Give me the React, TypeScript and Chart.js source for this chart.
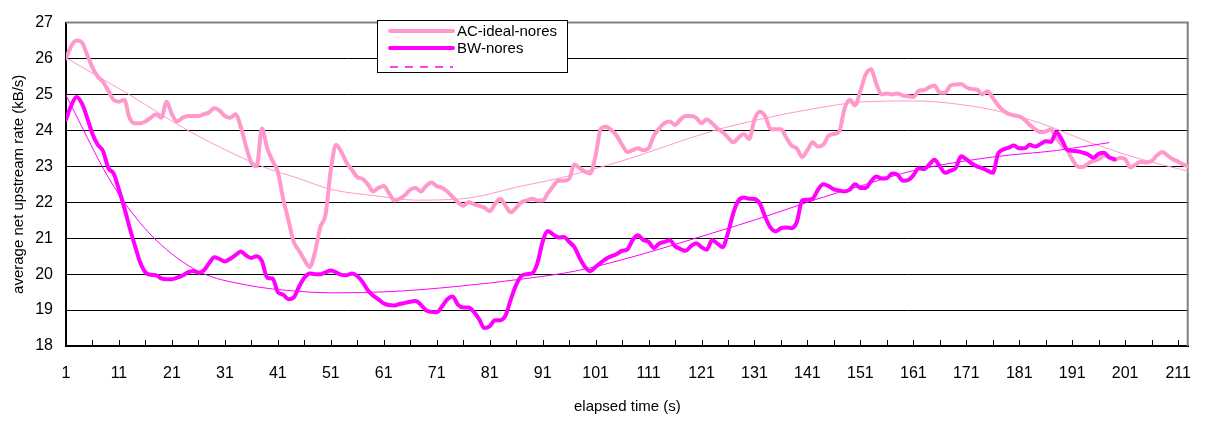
import React, { useEffect, useRef } from 'react';
import { Chart, registerables } from 'chart.js';

Chart.register(...registerables);

// ---- data ----
const seriesNames = ['AC-ideal-nores', 'BW-nores'];

// one value per second, starting at t = 1
const acRate = [
  26.0, 26.35, 26.5, 26.45, 26.1, 25.75, 25.5, 25.35, 25.1, 24.85,
  24.8, 24.85, 24.35, 24.2, 24.2, 24.25, 24.35, 24.45, 24.35, 24.8,
  24.45, 24.25, 24.35, 24.4, 24.4, 24.4, 24.45, 24.5, 24.62, 24.55,
  24.4, 24.35, 24.45, 24.1, 23.55, 23.1, 23.0, 24.05, 23.5, 23.15,
  22.85, 22.1, 21.5, 20.9, 20.65, 20.4, 20.2, 20.6, 21.3, 21.65,
  22.9, 23.6, 23.4, 23.1, 22.9, 22.7, 22.65, 22.5, 22.3, 22.4,
  22.45, 22.25, 22.05, 22.1, 22.2, 22.35, 22.4, 22.3, 22.45, 22.55,
  22.45, 22.4, 22.3, 22.15, 22.0, 21.9, 22.0, 21.95, 21.9, 21.85,
  21.75, 21.95, 22.1, 21.9, 21.72, 21.85, 22.0, 22.05, 22.1, 22.05,
  22.05, 22.25, 22.45, 22.6, 22.6, 22.65, 23.05, 22.95, 22.85, 22.8,
  23.3, 24.05, 24.1, 24.0, 23.85, 23.6, 23.4, 23.45, 23.5, 23.45,
  23.5, 23.85, 24.05, 24.2, 24.25, 24.15, 24.3, 24.4, 24.4, 24.35,
  24.2, 24.3, 24.2, 24.05, 23.95, 23.8, 23.67, 23.8, 23.9, 23.76,
  24.3, 24.52, 24.4, 24.05, 24.03, 24.03, 23.8, 23.58, 23.5, 23.26,
  23.45, 23.67, 23.55, 23.6, 23.85, 23.9, 23.97, 24.6, 24.85, 24.7,
  25.1, 25.55, 25.7, 25.3, 25.0, 25.03, 25.0, 25.03, 24.97, 24.95,
  24.93, 25.1, 25.12, 25.2, 25.25, 25.05, 25.05, 25.25, 25.28, 25.29,
  25.2, 25.15, 25.14, 25.0, 25.09, 24.9, 24.7, 24.55, 24.46, 24.42,
  24.39, 24.3, 24.15, 24.03, 23.95, 23.97, 24.03, 23.8, 23.6, 23.45,
  23.2, 23.0, 22.98, 23.08, 23.15, 23.2, 23.3, 23.25, 23.17, 23.24,
  23.2, 22.97, 23.05, 23.13, 23.1, 23.15, 23.3, 23.4, 23.3, 23.2,
  23.13, 23.05, 22.99,
];

const bwRate = [
  24.3, 24.7, 24.93, 24.75, 24.35, 23.9, 23.6, 23.42, 22.95, 22.8,
  22.35, 21.85, 21.3, 20.8, 20.33, 20.05, 19.98, 19.97, 19.88, 19.86,
  19.86, 19.9, 19.96, 20.05, 20.09, 20.04, 20.1, 20.3, 20.47, 20.42,
  20.35, 20.43, 20.53, 20.63, 20.52, 20.45, 20.5, 20.36, 19.9, 19.88,
  19.5, 19.43, 19.3, 19.35, 19.65, 19.9, 20.02, 20.0, 20.0, 20.05,
  20.1, 20.05, 19.98, 19.97, 20.02, 19.95, 19.78, 19.55, 19.4, 19.3,
  19.18, 19.14, 19.13, 19.17, 19.2, 19.23, 19.25, 19.15, 18.99, 18.95,
  18.94, 19.1, 19.3, 19.38, 19.15, 19.07, 19.07, 18.95, 18.75, 18.5,
  18.55, 18.72, 18.72, 18.85, 19.3, 19.7, 19.95, 20.0, 20.02, 20.3,
  20.9, 21.2, 21.1, 21.02, 21.03, 20.9, 20.75, 20.45, 20.2, 20.08,
  20.2, 20.32, 20.43, 20.5, 20.56, 20.65, 20.69, 20.95, 21.08, 20.95,
  20.9, 20.73, 20.85, 20.9, 20.94, 20.78, 20.7, 20.65, 20.78, 20.86,
  20.75, 20.68, 20.95, 20.85, 20.75, 21.15, 21.7, 22.05, 22.13, 22.1,
  22.09, 21.97, 21.6, 21.3, 21.19, 21.28, 21.3, 21.28, 21.45, 22.05,
  22.07, 22.1, 22.35, 22.5, 22.45, 22.36, 22.33, 22.3, 22.35, 22.5,
  22.4, 22.4, 22.58, 22.72, 22.66, 22.67, 22.8, 22.77, 22.6, 22.62,
  22.75, 22.95, 22.92, 23.05, 23.18, 23.0, 22.82, 22.88, 22.95, 23.28,
  23.2, 23.08, 23.0, 22.95, 22.88, 22.82, 23.35, 23.47, 23.52, 23.58,
  23.5, 23.5, 23.6, 23.55, 23.62, 23.7, 23.68, 23.95, 23.75, 23.47,
  23.43, 23.42, 23.38, 23.33, 23.24, 23.35, 23.38, 23.25, 23.2,
];

// trend lines, sampled along the thin curves
const acTrendTime = [1, 13, 24, 38, 45, 51, 60, 67, 76, 87, 95, 100, 106, 123, 133, 142, 152, 161, 167, 176, 185, 195, 204, 213];
const acTrendRate = [26.02, 24.99, 24.0, 23.0, 22.66, 22.36, 22.17, 22.06, 22.1, 22.45, 22.7, 22.9, 23.15, 23.98, 24.34, 24.6, 24.8, 24.82, 24.77, 24.57, 24.2, 23.63, 23.2, 22.86];
const bwTrendTime = [1, 4, 8, 12, 18, 26, 35, 45, 51, 63, 75, 88, 97, 106, 123, 133, 142, 152, 161, 176, 188, 198];
const bwTrendRate = [24.98, 24.1, 22.95, 22.0, 20.95, 20.08, 19.7, 19.52, 19.48, 19.52, 19.66, 19.88, 20.08, 20.4, 21.14, 21.6, 22.05, 22.5, 22.88, 23.26, 23.44, 23.66];

const yTicks = [18, 19, 20, 21, 22, 23, 24, 25, 26, 27];
const xLabelTicks = [1, 11, 21, 31, 41, 51, 61, 71, 81, 91, 101, 111, 121, 131, 141, 151, 161, 171, 181, 191, 201, 211];
const xMarkTicks = [1, 6, 11, 16, 21, 26, 31, 36, 41, 46, 51, 56, 61, 66, 71, 76, 81, 86, 91, 96, 101, 106, 111, 116, 121, 126, 131, 136, 141, 146, 151, 156, 161, 166, 171, 176, 181, 186, 191, 196, 201, 206, 211];

const xTitle = 'elapsed time (s)';
const yTitle = 'average net upstream rate (kB/s)';

const PINK = '#FF99CC';
const MAGENTA = '#FF00FF';
const FONT = '"Liberation Sans Narrow", "Arial Narrow", "Liberation Sans", Arial, sans-serif';

const framePlugin = {
  id: 'frame',
  beforeDatasetsDraw(chart: any) {
    const { ctx, chartArea: a, scales } = chart;
    const x = scales.x;
    ctx.save();
    ctx.strokeStyle = '#808080';
    ctx.lineWidth = 2;
    ctx.beginPath();
    ctx.moveTo(a.left, a.top);
    ctx.lineTo(a.right - 1, a.top);
    ctx.lineTo(a.right - 1, a.bottom);
    ctx.stroke();
    ctx.strokeStyle = '#000';
    ctx.lineWidth = 1;
    ctx.beginPath();
    xMarkTicks.forEach((v) => {
      const px = Math.round(x.getPixelForValue(v)) + 0.5;
      ctx.moveTo(px, a.bottom);
      ctx.lineTo(px, a.bottom - 6);
    });
    ctx.stroke();
    ctx.restore();
  },
};

const legendPlugin = {
  id: 'boxLegend',
  afterDraw(chart: any) {
    const { ctx } = chart;
    const lx = 377, ly = 20, lw = 190, lh = 52;
    ctx.save();
    ctx.fillStyle = '#fff';
    ctx.fillRect(lx, ly, lw, lh);
    ctx.strokeStyle = '#000';
    ctx.lineWidth = 1;
    ctx.strokeRect(lx + 0.5, ly + 0.5, lw, lh);
    const rows = [
      { y: 31, color: PINK, width: 4, dash: [] as number[], text: seriesNames[0] },
      { y: 48, color: MAGENTA, width: 4, dash: [] as number[], text: seriesNames[1] },
      { y: 67, color: MAGENTA, width: 1.3, dash: [8, 7], text: '' },
    ];
    rows.forEach((r) => {
      ctx.strokeStyle = r.color;
      ctx.lineWidth = r.width;
      ctx.setLineDash(r.dash);
      ctx.lineCap = r.dash.length ? 'butt' : 'round';
      ctx.beginPath();
      ctx.moveTo(390, r.y);
      ctx.lineTo(453, r.y);
      ctx.stroke();
      ctx.setLineDash([]);
      if (r.text) {
        ctx.fillStyle = '#000';
        ctx.font = `15px ${FONT}`;
        ctx.textBaseline = 'middle';
        ctx.textAlign = 'left';
        ctx.fillText(r.text, 457, r.y + 1);
      }
    });
    ctx.restore();
  },
};

export default function App() {
  const ref = useRef<HTMLCanvasElement | null>(null);

  useEffect(() => {
    document.body.style.margin = '0';
    const canvas = ref.current;
    if (!canvas) return;
    const chart = new Chart(canvas, {
      type: 'line',
      data: {
        datasets: [
          {
            label: 'BW-trend',
            data: bwTrendTime.map((t, i) => ({ x: t, y: bwTrendRate[i] })),
            borderColor: MAGENTA,
            borderWidth: 1,
            pointRadius: 0,
            cubicInterpolationMode: 'monotone',
            order: 0,
          },
          {
            label: 'AC-trend',
            data: acTrendTime.map((t, i) => ({ x: t, y: acTrendRate[i] })),
            borderColor: PINK,
            borderWidth: 1,
            pointRadius: 0,
            cubicInterpolationMode: 'monotone',
            order: 1,
          },
          {
            label: seriesNames[1],
            data: bwRate.map((v, i) => ({ x: i + 1, y: v })),
            borderColor: MAGENTA,
            borderWidth: 4,
            pointRadius: 0,
            cubicInterpolationMode: 'monotone',
            borderJoinStyle: 'round',
            borderCapStyle: 'round',
            order: 2,
          },
          {
            label: seriesNames[0],
            data: acRate.map((v, i) => ({ x: i + 1, y: v })),
            borderColor: PINK,
            borderWidth: 4,
            pointRadius: 0,
            cubicInterpolationMode: 'monotone',
            borderJoinStyle: 'round',
            borderCapStyle: 'round',
            order: 3,
          },
        ],
      },
      options: {
        animation: false,
        responsive: false,
        maintainAspectRatio: false,
        layout: { padding: { left: 0, right: 12, top: 13, bottom: 0 } },
        plugins: { legend: { display: false }, tooltip: { enabled: false } },
        scales: {
          x: {
            type: 'linear',
            min: 1,
            max: 213,
            afterBuildTicks: (s: any) => {
              s.ticks = xLabelTicks.map((v) => ({ value: v }));
            },
            afterFit: (s: any) => {
              s.height = 75;
            },
            grid: { display: false, drawTicks: false },
            border: { display: true, color: '#000', width: 2 },
            ticks: {
              padding: 18,
              color: '#000',
              maxRotation: 0,
              autoSkip: false,
              font: { family: FONT, size: 16 },
              callback: (v: any) => String(v),
            },
            title: {
              display: true,
              text: xTitle,
              color: '#000',
              font: { family: FONT, size: 15 },
              padding: { top: 0, bottom: 5 },
            },
          },
          y: {
            min: 18,
            max: 27,
            afterBuildTicks: (s: any) => {
              s.ticks = yTicks.map((v) => ({ value: v }));
            },
            afterFit: (s: any) => {
              s.width = 66;
            },
            grid: {
              drawTicks: false,
              lineWidth: 1,
              color: (c: any) => (c.tick && c.tick.value === 27 ? '#808080' : '#000'),
            },
            border: { display: true, color: '#000', width: 2 },
            ticks: {
              padding: 13,
              color: '#000',
              font: { family: FONT, size: 16 },
              callback: (v: any) => String(v),
            },
            title: {
              display: true,
              text: yTitle,
              color: '#000',
              font: { family: FONT, size: 15 },
              padding: { top: 10, bottom: 0 },
            },
          },
        },
      },
      plugins: [framePlugin, legendPlugin],
    });
    return () => chart.destroy();
  }, []);

  return (
    <div style={{ width: 1209, height: 421 }}>
      <canvas ref={ref} width={1209} height={421} style={{ display: 'block' }} />
    </div>
  );
}
